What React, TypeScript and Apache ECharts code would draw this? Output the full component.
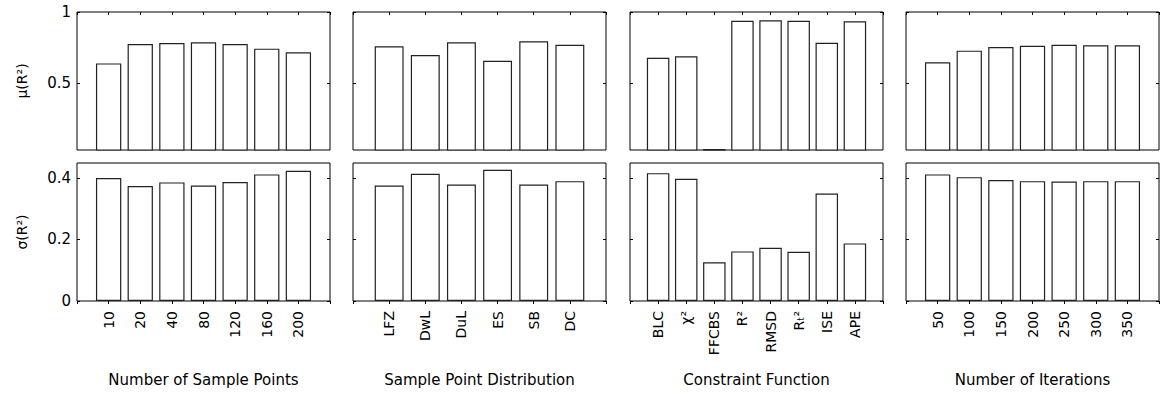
import React, { useEffect, useRef } from "react";
import * as echarts from "echarts";

const sampleCats = ["10", "20", "40", "80", "120", "160", "200"];
const sampleMu = [0.637, 0.774, 0.781, 0.786, 0.774, 0.741, 0.715];
const sampleSigma = [0.399, 0.373, 0.385, 0.375, 0.386, 0.411, 0.423];

const distCats = ["LFZ", "DwL", "DuL", "ES", "SB", "DC"];
const distMu = [0.758, 0.696, 0.786, 0.655, 0.793, 0.769];
const distSigma = [0.375, 0.413, 0.378, 0.426, 0.378, 0.389];

const funcCats = ["BLC", "χ²", "FFCBS", "R²", "RMSD", "Rₜ²", "ISE", "APE"];
const funcMu = [0.677, 0.687, 0.032, 0.938, 0.941, 0.938, 0.783, 0.934];
const funcSigma = [0.415, 0.397, 0.126, 0.161, 0.173, 0.16, 0.349, 0.187];

const iterCats = ["50", "100", "150", "200", "250", "300", "350"];
const iterMu = [0.645, 0.727, 0.753, 0.762, 0.769, 0.765, 0.765];
const iterSigma = [0.411, 0.402, 0.393, 0.389, 0.388, 0.389, 0.389];

const groupNames = [
  "Number of Sample Points",
  "Sample Point Distribution",
  "Constraint Function",
  "Number of Iterations",
];
const rowNames = ["μ(R²)", "σ(R²)"];
const muTicks = [0.5, 1];
const sigmaTicks = [0, 0.2, 0.4];

const groups = [
  { cats: sampleCats, rows: [sampleMu, sampleSigma] },
  { cats: distCats, rows: [distMu, distSigma] },
  { cats: funcCats, rows: [funcMu, funcSigma] },
  { cats: iterCats, rows: [iterMu, iterSigma] },
];

const FONT = "DejaVu Sans";

export default function App() {
  const ref = useRef<HTMLDivElement>(null);
  useEffect(() => {
    if (!ref.current) return;
    const chart = echarts.init(ref.current, undefined, { renderer: "svg" });
    const lefts = [77, 353, 630, 906];
    const width = 253;
    const tops = [12, 163];
    const height = 138;
    const yRanges = [
      { min: 0.025, max: 1, ticks: muTicks },
      { min: 0, max: 0.448, ticks: sigmaTicks },
    ];
    const grid: any[] = [];
    const xAxis: any[] = [];
    const yAxis: any[] = [];
    const series: any[] = [];
    groups.forEach((g, gi) => {
      const cats = ["", ...g.cats, ""];
      const slot = width / (g.cats.length + 1);
      g.rows.forEach((vals, r) => {
        const idx = grid.length;
        grid.push({
          left: lefts[gi],
          top: tops[r],
          width,
          height,
          show: true,
          borderColor: "#000",
          borderWidth: 1,
          backgroundColor: "transparent",
        });
        xAxis.push({
          type: "category",
          gridIndex: idx,
          data: cats,
          boundaryGap: false,
          position: "bottom",
          axisLine: { show: false },
          axisTick: { show: false },
          splitLine: { show: false },
          axisLabel: {
            show: r === 1,
            rotate: 90,
            margin: 10,
            interval: 0,
            fontSize: 14,
            fontFamily: FONT,
            color: "#000",
          },
          name: r === 1 ? groupNames[gi] : "",
          nameLocation: "middle",
          nameGap: 71,
          nameTextStyle: { fontSize: 15, fontFamily: FONT, color: "#000" },
        });
        xAxis.push({
          type: "category",
          gridIndex: idx,
          data: cats,
          boundaryGap: false,
          position: "top",
          axisLine: { show: false },
          axisTick: { show: true, inside: true, length: 3, interval: 0, lineStyle: { color: "#000" } },
          axisLabel: { show: false },
          splitLine: { show: false },
        });
        const yr = yRanges[r];
        yAxis.push({
          type: "value",
          gridIndex: idx,
          min: yr.min,
          max: yr.max,
          position: "left",
          axisLine: { show: false },
          splitLine: { show: false },
          axisTick: { show: true, inside: true, length: 3, customValues: yr.ticks, lineStyle: { color: "#000" } },
          axisLabel: {
            show: gi === 0,
            customValues: yr.ticks,
            fontSize: 15,
            fontFamily: FONT,
            color: "#000",
            margin: 6,
          },
          name: gi === 0 ? rowNames[r] : "",
          nameLocation: "middle",
          nameGap: 48,
          nameTextStyle: { fontSize: 14, fontFamily: FONT, color: "#000" },
        });
        yAxis.push({
          type: "value",
          gridIndex: idx,
          min: yr.min,
          max: yr.max,
          position: "right",
          axisLine: { show: false },
          splitLine: { show: false },
          axisTick: { show: true, inside: true, length: 3, customValues: yr.ticks, lineStyle: { color: "#000" } },
          axisLabel: { show: false },
        });
        series.push({
          type: "bar",
          xAxisIndex: idx * 2,
          yAxisIndex: idx * 2,
          data: ["-", ...vals, "-"],
          barWidth: slot * 0.8,
          itemStyle: { color: "#fff", borderColor: "#222", borderWidth: 1.2 },
          silent: true,
        });
      });
    });
    chart.setOption({
      animation: false,
      backgroundColor: "#fff",
      textStyle: { fontFamily: FONT },
      grid,
      xAxis,
      yAxis,
      series,
    });
    return () => chart.dispose();
  }, []);
  return (
    <div
      ref={ref}
      style={{ position: "fixed", left: 0, top: 0, width: 1161, height: 396 }}
    />
  );
}
